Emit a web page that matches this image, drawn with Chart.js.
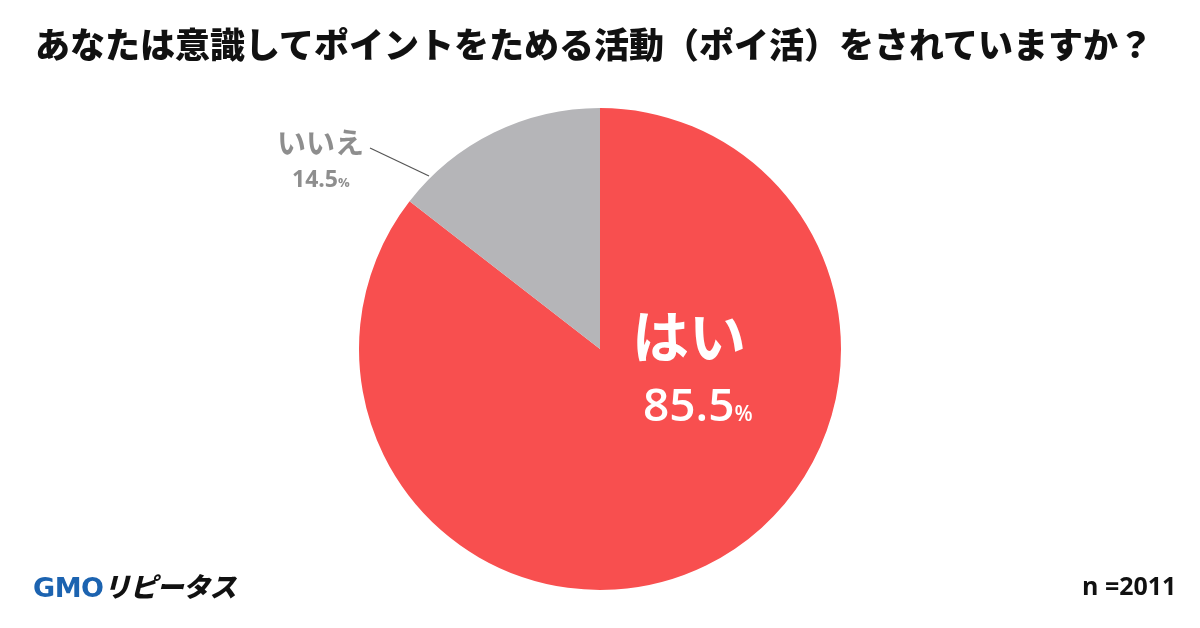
<!DOCTYPE html>
<html><head><meta charset="utf-8">
<script src="https://cdn.jsdelivr.net/npm/chart.js@4/dist/chart.umd.min.js"></script>
<style>
html,body{margin:0;padding:0;background:#fff;}
#wrap{position:relative;width:1200px;height:628px;overflow:hidden;font-family:"Noto Sans CJK JP","Noto Sans",sans-serif;}
#c{position:absolute;left:0;top:0;}
.t{position:absolute;white-space:nowrap;line-height:1;}
</style></head><body>
<div id="wrap">
<canvas id="c" width="1200" height="628"></canvas>
<div class="t" id="title" style="left:0;width:1188px;text-align:center;top:25px;font-size:35px;font-weight:900;color:#111;">あなたは意識してポイントをためる活動（ポイ活）をされていますか？</div>
<div class="t" style="left:632px;top:305px;font-size:57px;font-weight:700;color:#fff;">はい</div>
<div class="t" style="left:643px;top:380px;font-size:46px;font-weight:600;color:#fff;font-family:'Open Sans','Noto Sans',sans-serif;">85.5<span style="font-size:21px;">%</span></div>
<div class="t" style="left:277px;top:127px;font-size:29px;font-weight:700;color:#8e8e8e;">いいえ</div>
<div class="t" style="left:292px;top:167px;font-size:23px;font-weight:700;color:#8e8e8e;font-family:'Open Sans','Noto Sans',sans-serif;">14.5<span style="font-size:13px;">%</span></div>
<div class="t" style="left:33px;top:572px;font-size:27px;font-weight:900;font-style:italic;letter-spacing:-0.5px;"><span style="color:#1c63b0;font-family:'DejaVu Sans',sans-serif;font-style:normal;">GMO</span><span style="color:#111;">リピータス</span></div>
<div class="t" style="left:1082px;top:573px;font-size:25px;font-weight:700;color:#111;font-family:'Open Sans','Noto Sans',sans-serif;">n =2011</div>
</div>
<script>
const categories = ["はい", "いいえ"];
const values = [85.5, 14.5];
const colors = ["#F84F4F", "#B5B5B8"];

const leader = {
  id: 'leader',
  afterDraw(chart) {
    const ctx = chart.ctx;
    ctx.save();
    ctx.strokeStyle = '#555';
    ctx.lineWidth = 1.2;
    ctx.beginPath();
    ctx.moveTo(370, 148);
    ctx.lineTo(429, 176);
    ctx.stroke();
    ctx.restore();
  }
};

new Chart(document.getElementById('c'), {
  type: 'pie',
  data: {
    labels: categories,
    datasets: [{ data: values, backgroundColor: colors, borderWidth: 0, hoverOffset: 0 }]
  },
  options: {
    responsive: false,
    animation: false,
    layout: { padding: { top: 108, bottom: 38, left: 0, right: 0 } },
    plugins: { legend: { display: false }, tooltip: { enabled: false } }
  },
  plugins: [leader]
});
</script>
</body></html>
